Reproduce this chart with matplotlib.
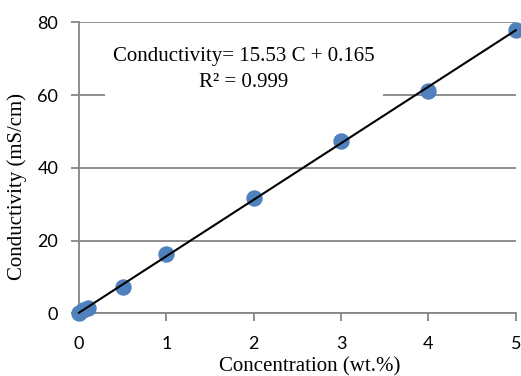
import numpy as np
import matplotlib.pyplot as plt

conc = [0, 0.05, 0.1, 0.5, 1, 2, 3, 4, 5]
cond = [0.2, 0.9, 1.6, 7.3, 16.3, 31.8, 47.3, 61.0, 78.0]
slope = 15.53
intercept = 0.165
x_ticks = [0, 1, 2, 3, 4, 5]
y_ticks = [0, 20, 40, 60, 80]

tick_font = "Lato"
serif = "Liberation Serif"
gray = "#868686"

fig = plt.figure(figsize=(5.21, 3.76), dpi=100)
ax = fig.add_axes([0.1516, 0.1667, 0.8384, 0.774])

ax.set_xlim(0, 5)
ax.set_ylim(0, 80)
ax.set_xticks(x_ticks)
ax.set_yticks(y_ticks)
ax.yaxis.grid(True, color=gray, linewidth=1.3)
ax.set_axisbelow(True)

for s in ["top", "right"]:
    ax.spines[s].set_visible(False)
for s in ["left", "bottom"]:
    ax.spines[s].set_color(gray)
    ax.spines[s].set_linewidth(1.3)
ax.tick_params(color=gray, length=6, width=1.3, labelsize=13)
ax.tick_params(axis="x", pad=10)
ax.tick_params(axis="y", pad=9)
for lab in ax.get_xticklabels() + ax.get_yticklabels():
    lab.set_fontfamily(tick_font)

ax.plot(conc, cond, "o", color="#4F81BD", markersize=10.8, clip_on=False, zorder=3)
xf = np.array([0, 5])
ax.plot(xf, slope * xf + intercept, color="black", linewidth=1.5, zorder=4, clip_on=False)

ax.text(1.89, 67.0, "Conductivity= 15.53 C + 0.165\nR² = 0.999", ha="center", va="center",
        fontsize=15, family=serif, linespacing=1.5,
        bbox=dict(facecolor="white", edgecolor="none", pad=6), zorder=2.5)

ax.set_xlabel("Concentration (wt.%)", family=serif, fontsize=15, va="center")
ax.set_ylabel("Conductivity (mS/cm)", family=serif, fontsize=15, va="center")
ax.xaxis.set_label_coords(0.529, -0.185)
ax.yaxis.set_label_coords(-0.142, 0.437)

fig.savefig("out.png", dpi=100)
